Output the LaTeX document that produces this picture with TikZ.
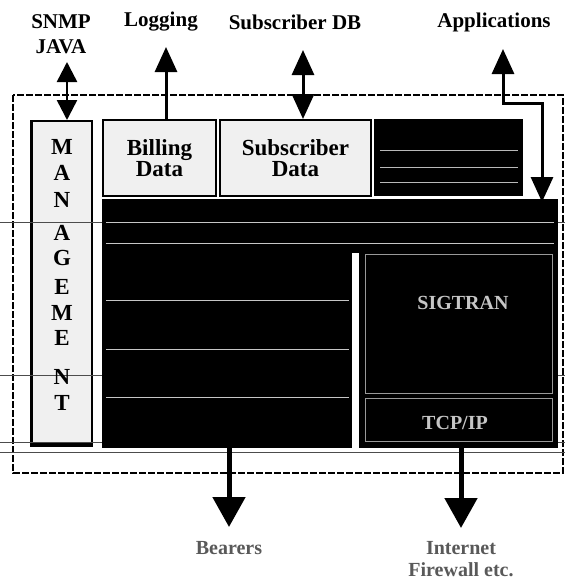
\documentclass[tikz,border=0pt]{standalone}
\usepackage{fontspec}
\setmainfont{Liberation Serif}
\usetikzlibrary{arrows.meta}
\begin{document}
\begin{tikzpicture}[x=1pt,y=-1pt,
  lbl/.style={font=\fontsize{21}{23}\selectfont\bfseries, inner sep=0pt},
  botlbl/.style={font=\fontsize{20}{22}\selectfont\bfseries, inner sep=0pt, text=black!65, align=center},
  boxtxt/.style={font=\fontsize{23}{21}\selectfont\bfseries, align=center, inner sep=0pt},
  letter/.style={font=\fontsize{23}{23}\selectfont\bfseries, inner sep=0pt},
  lightbox/.style={draw=black, line width=2pt, fill=gray!12, inner sep=0pt},
  darkbox/.style={draw=black, line width=2pt, fill=black, inner sep=0pt},
  bgline/.style={draw=black!70, line width=0.8pt},
  texture/.style={draw=gray!30, line width=0.4pt},
  arrsmall/.style={line width=2.5pt, {Triangle[width=20pt,length=20pt]}-{Triangle[width=20pt,length=20pt]}},
  arrup/.style={line width=3pt, -{Triangle[width=22pt,length=25pt]}},
  arrdbl/.style={line width=3pt, {Triangle[width=22pt,length=25pt]}-{Triangle[width=22pt,length=25pt]}},
  arrbig/.style={line width=5pt, -{Triangle[width=32pt,length=30pt]}},
  frame/.style={draw=black, line width=1.3pt, dash pattern=on 7pt off 2pt}
]
\useasboundingbox (0,0) rectangle (565,581);

% outer dashed frame
\draw[frame] (13,95) rectangle (563,473);

% light boxes
\node[lightbox, minimum width=60pt, minimum height=323pt] (mgmt) at (62,282.5) {};
\draw[line width=3pt] (mgmt.north west) -- (mgmt.south west) -- (mgmt.south east);
\node[lightbox, minimum width=113pt, minimum height=76pt] (bill) at (159.5,158) {};
\node[lightbox, minimum width=151pt, minimum height=76pt] (subs) at (295.5,158) {};

% background rules
\draw[bgline] (0,222) -- (565,222);
\draw[bgline] (0,375) -- (565,375);
\draw[bgline] (0,442) -- (565,442);
\draw[bgline] (0,452) -- (565,452);

% dark boxes
\node[darkbox, minimum width=147pt, minimum height=75pt] (appsrv) at (448.5,157.5) {};
\node[darkbox, minimum width=454pt, minimum height=50pt] (bar) at (330,225) {};
\node[darkbox, minimum width=248pt, minimum height=197pt] (lstack) at (227,348.5) {};
\node[darkbox, minimum width=197pt, minimum height=197pt] (rstack) at (458.5,348.5) {};
\fill[black] (103,240) rectangle (557,256);
\fill[white] (352,253) rectangle (359,446);

% faint textures in dark areas
\foreach \y in {150,167,182} \draw[texture,draw=gray!55] (380,\y) -- (518,\y);
\foreach \y in {222,243} \draw[texture,draw=gray!45] (106,\y) -- (554,\y);
\foreach \y in {300,349,397} \draw[texture,draw=gray!45] (106,\y) -- (349,\y);
\draw[draw=gray!80, line width=0.9pt] (365,254) rectangle (552,393);
\draw[draw=gray!80, line width=0.9pt] (365,398) rectangle (552,441);
\node[font=\fontsize{20}{20}\selectfont\bfseries, text=gray!45] (sigtran) at (463,303) {SIGTRAN};
\node[font=\fontsize{20}{20}\selectfont\bfseries, text=gray!45] (tcpip) at (455,423) {TCP/IP};

% management letters
\foreach \l/\y [count=\i] in {M/147,A/173,N/200,A/233,G/258,E/287,M/313,E/338,N/377,T/403}
  \node[letter] (ml\i) at (62,\y) {\l};

% box texts
\node[boxtxt] (billt) at (bill.center) {Billing\\Data};
\node[boxtxt] (subst) at (subs.center) {Subscriber\\Data};

% top labels
\node[lbl] (snmp) at (61,22) {SNMP};
\node[lbl] (java) at (61,47) {JAVA};
\node[lbl] (logging) at (161,22) {Logging};
\node[lbl] (subdb) at (295,22) {Subscriber DB};
\node[lbl] (apps) at (494,22) {Applications};

% bottom labels
\node[botlbl] (bearers) at (229,548) {Bearers};
\node[botlbl] (inet) at (461,559) {Internet\\Firewall etc.};

% connector coordinates
\coordinate (snmptip) at (67,62);
\coordinate (logtip) at (166,47);
\coordinate (subtip) at (303,50);
\coordinate (apptip) at (503,49);
\coordinate (appbend) at (503,103);
\coordinate (appdown) at (542,202);
\coordinate (beartip) at (229,527);
\coordinate (inettip) at (461,528);

% arrows
\draw[arrsmall] (snmptip) -- (mgmt.north -| snmptip);
\draw[arrup] (bill.north -| logtip) -- (logtip);
\draw[arrdbl] (subtip) -- (subs.north -| subtip);
\draw[arrdbl] (apptip) -- (appbend) -| (appdown);
\draw[arrbig] (lstack.south -| beartip) -- (beartip);
\draw[arrbig] (rstack.south -| inettip) -- (inettip);
\end{tikzpicture}
\end{document}
